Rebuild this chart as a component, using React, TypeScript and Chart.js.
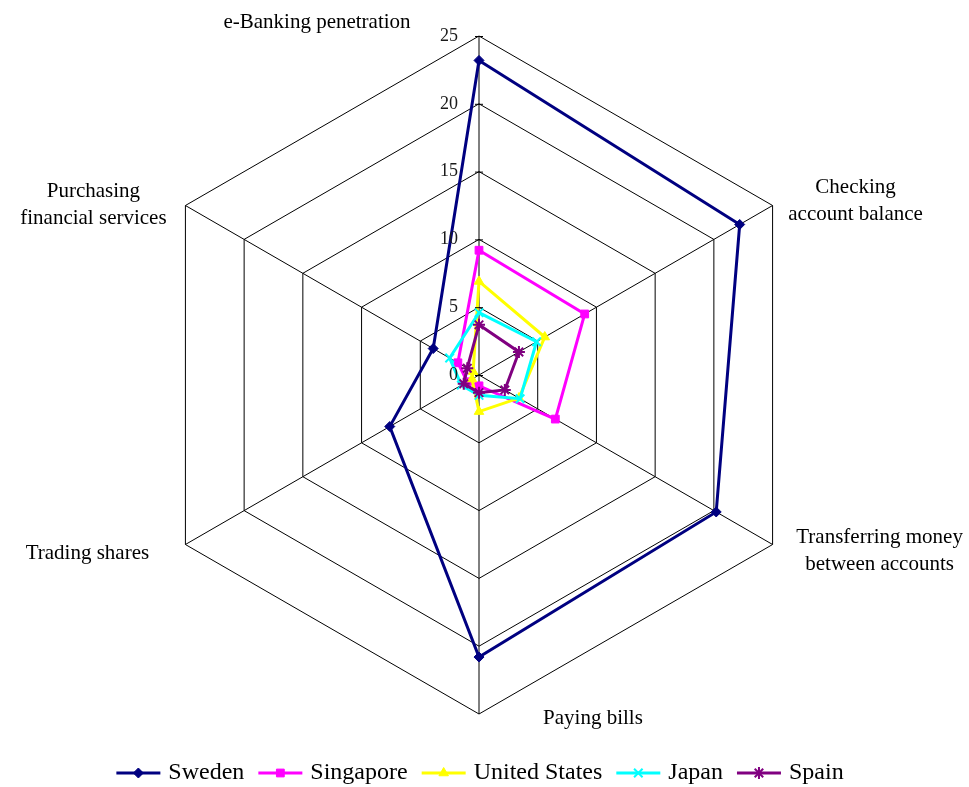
import React, { useEffect, useRef } from "react";
import { Chart, registerables } from "chart.js";
import { drawPoint } from "chart.js/helpers";

Chart.register(...registerables);

const categories: (string | string[])[] = [
  "e-Banking penetration",
  ["Checking", "account balance"],
  ["Transferring money", "between accounts"],
  "Paying bills",
  "Trading shares",
  ["Purchasing", "financial services"],
];

const tickValues = [0, 5, 10, 15, 20, 25];

const sweden = [23.2, 22.2, 20.2, 20.8, 7.6, 3.9];
const singapore = [9.2, 9.0, 6.5, 0.8, 1.0, 1.8];
const unitedStates = [6.9, 5.6, 3.4, 2.7, 0.6, 0.5];
const japan = [4.6, 4.9, 3.5, 1.5, 1.5, 2.5];
const spain = [3.7, 3.4, 2.2, 1.3, 1.3, 1.0];

const seriesNames = ["Sweden", "Singapore", "United States", "Japan", "Spain"];

// label placement offsets relative to the outer vertex of each axis
const labelOffsets = [
  [-162, -14],
  [83, -5],
  [107, 6],
  [114, 4],
  [-98, 9],
  [-92, -1],
];

const serif = "'Liberation Serif', 'Times New Roman', serif";

const customDraw = {
  id: "customDraw",
  afterDraw(chart: any) {
    const ctx = chart.ctx;
    const scale = chart.scales.r;
    ctx.save();
    // tick labels and tick marks on the vertical axis
    ctx.font = `18px ${serif}`;
    ctx.fillStyle = "#1a1a1a";
    ctx.textAlign = "right";
    ctx.textBaseline = "middle";
    ctx.strokeStyle = "#000";
    ctx.lineWidth = 1;
    tickValues.forEach((v) => {
      const y = scale.yCenter - scale.getDistanceFromCenterForValue(v);
      ctx.fillText(String(v), scale.xCenter - 21, y);
      ctx.beginPath();
      ctx.moveTo(scale.xCenter - 4, y + 0.5);
      ctx.lineTo(scale.xCenter + 4, y + 0.5);
      ctx.stroke();
    });
    // point labels
    ctx.font = `21px ${serif}`;
    ctx.fillStyle = "#000";
    ctx.textAlign = "center";
    const lh = 27;
    chart.data.labels.forEach((lab: any, i: number) => {
      const p = scale.getPointPosition(i, scale.drawingArea);
      const lines = Array.isArray(lab) ? lab : [lab];
      const cx = p.x + labelOffsets[i][0];
      const cy = p.y + labelOffsets[i][1];
      const startY = cy - ((lines.length - 1) * lh) / 2;
      lines.forEach((t: string, k: number) => ctx.fillText(t, cx, startY + k * lh));
    });
    // legend
    ctx.font = `24px ${serif}`;
    ctx.textAlign = "left";
    const lineLen = 44;
    const gapText = 8;
    const gapItem = 14;
    const ds = chart.data.datasets;
    const widths = ds.map((d: any) => lineLen + gapText + ctx.measureText(d.label).width);
    const total = widths.reduce((a: number, b: number) => a + b, 0) + gapItem * (ds.length - 1);
    let x = scale.xCenter + 1 - total / 2;
    const ly = 773;
    ds.forEach((d: any, i: number) => {
      ctx.strokeStyle = d.borderColor;
      ctx.lineWidth = 3;
      ctx.beginPath();
      ctx.moveTo(x, ly);
      ctx.lineTo(x + lineLen, ly);
      ctx.stroke();
      ctx.fillStyle = d.pointBackgroundColor;
      ctx.strokeStyle = d.pointBorderColor;
      ctx.lineWidth = d.pointBorderWidth;
      drawPoint(ctx, { pointStyle: d.pointStyle, rotation: 0, borderWidth: d.pointBorderWidth, radius: d.pointRadius }, x + lineLen / 2, ly);
      ctx.fillStyle = "#000";
      ctx.fillText(d.label, x + lineLen + gapText, ly);
      x += widths[i] + gapItem;
    });
    ctx.restore();
  },
};

export default function App() {
  const ref = useRef<HTMLCanvasElement>(null);
  useEffect(() => {
    if (!ref.current) return;
    const mk = (label: string, data: number[], color: string, style: string, radius: number, bw: number, order: number) => ({
      label,
      data,
      borderColor: color,
      backgroundColor: color,
      pointBackgroundColor: color,
      pointBorderColor: color,
      pointStyle: style,
      pointRadius: radius,
      pointBorderWidth: bw,
      borderWidth: 3,
      fill: false,
      tension: 0,
      order,
    });
    const chart = new Chart(ref.current, {
      type: "radar",
      data: {
        labels: categories,
        datasets: [
          mk(seriesNames[0], sweden, "#000080", "rectRot", 5, 1, 4),
          mk(seriesNames[1], singapore, "#FF00FF", "rect", 5.5, 1, 3),
          mk(seriesNames[2], unitedStates, "#FFFF00", "triangle", 5.5, 1, 2),
          mk(seriesNames[3], japan, "#00FFFF", "crossRot", 6, 2, 1),
          mk(seriesNames[4], spain, "#800080", "star", 6, 2, 0),
        ],
      },
      options: {
        animation: false,
        responsive: false,
        maintainAspectRatio: false,
        layout: { padding: { left: 140, right: 151, top: 36, bottom: 73 } },
        plugins: { legend: { display: false }, tooltip: { enabled: false } },
        scales: {
          r: {
            min: 0,
            max: 25,
            ticks: { stepSize: 5, display: false },
            pointLabels: { display: false },
            grid: { color: "#000", lineWidth: 1, circular: false },
            angleLines: { color: "#000", lineWidth: 1 },
          },
        },
      },
      plugins: [customDraw],
    });
    return () => chart.destroy();
  }, []);
  return (
    <div style={{ position: "absolute", left: 0, top: 0, width: 969, height: 787, overflow: "hidden" }}>
      <canvas ref={ref} width={969} height={787} style={{ width: 969, height: 787, display: "block" }} />
    </div>
  );
}
